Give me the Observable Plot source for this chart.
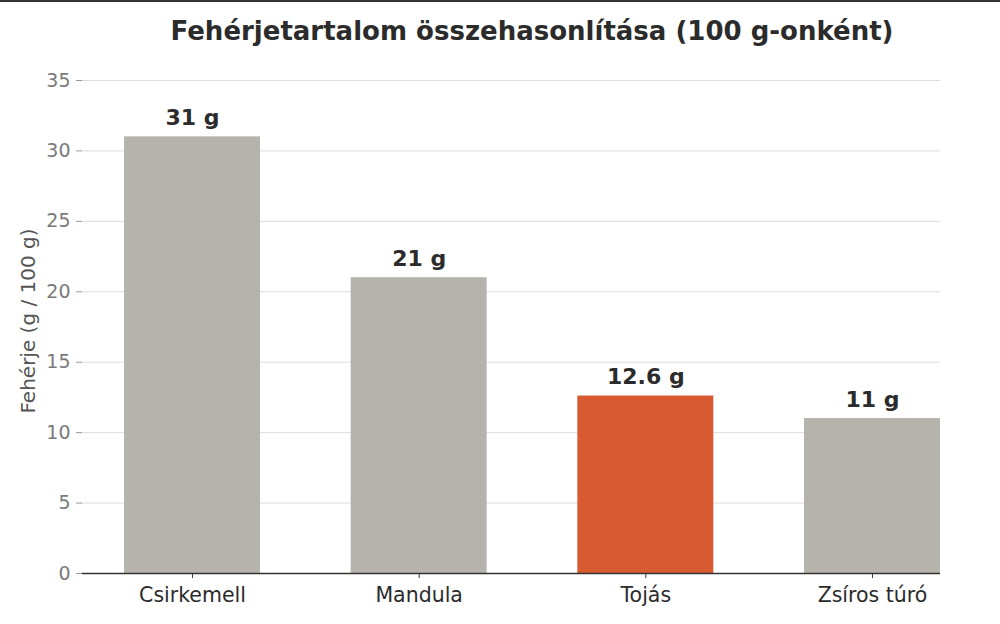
<!DOCTYPE html>
<html>
<head>
<meta charset="utf-8">
<script src="https://cdn.jsdelivr.net/npm/d3@7"></script>
<script src="https://cdn.jsdelivr.net/npm/@observablehq/plot@0.6"></script>
<style>
  html, body { margin: 0; padding: 0; background: #fff; }
  body { width: 1000px; height: 624px; overflow: hidden; border-top: 2px solid #333; box-sizing: border-box; }
  #title { height: 58px; box-sizing: border-box; padding-top: 14px; padding-left: 64px; text-align: center;
    font: bold 26px "DejaVu Sans", sans-serif; color: #2b2b2b; white-space: nowrap; }
  #chart svg, #chart svg text { font-family: "DejaVu Sans", sans-serif; }
</style>
</head>
<body>
<div id="title">Fehérjetartalom összehasonlítása (100 g-onként)</div>
<div id="chart"></div>
<script>
const categories = ["Csirkemell", "Mandula", "Tojás", "Zsíros túró"];
const proteinValues = [31, 21, 12.6, 11];
const valueLabels = ["31 g", "21 g", "12.6 g", "11 g"];
const highlighted = "Tojás";
const yTicks = [0, 5, 10, 15, 20, 25, 30, 35];

const data = categories.map((c, i) => ({cat: c, value: proteinValues[i], label: valueLabels[i]}));

const chart = Plot.plot({
  width: 1000,
  height: 564,
  marginLeft: 82,
  marginRight: 60,
  marginTop: 20,
  marginBottom: 51,
  style: 'font-family: "DejaVu Sans", sans-serif; background: #fff;',
  x: {domain: categories, range: [78.7, 985.3], paddingInner: 0.4, paddingOuter: 0.2, round: false, label: null},
  y: {domain: [0, 35], label: null},
  marks: [
    Plot.gridY(yTicks, {stroke: "#dcdcdc", strokeOpacity: 1, strokeWidth: 1}),
    Plot.axisY(yTicks, {tickSize: 6, tickPadding: 6, fontSize: 19, fill: "#7a7a7a", stroke: "#999", label: null}),
    Plot.barY(data, {x: "cat", y: "value", fill: d => d.cat === highlighted ? "#d85a31" : "#b5b3ab"}),
    Plot.text(data, {x: "cat", y: "value", text: "label", lineAnchor: "bottom", dy: -12,
      fontSize: 22, fontWeight: "bold", fill: "#2b2b2b"}),
    Plot.ruleY([0], {stroke: "#333", strokeWidth: 1.6}),
    Plot.axisX({tickSize: 5, tickPadding: 9, fontSize: 20.5, fill: "#2b2b2b", stroke: "#333", label: null}),
    Plot.text(["Fehérje (g / 100 g)"], {frameAnchor: "left", textAnchor: "middle", dx: -54, dy: -6, rotate: -90, fontSize: 20, fill: "#555"})
  ]
});
document.getElementById("chart").appendChild(chart);
</script>
</body>
</html>
